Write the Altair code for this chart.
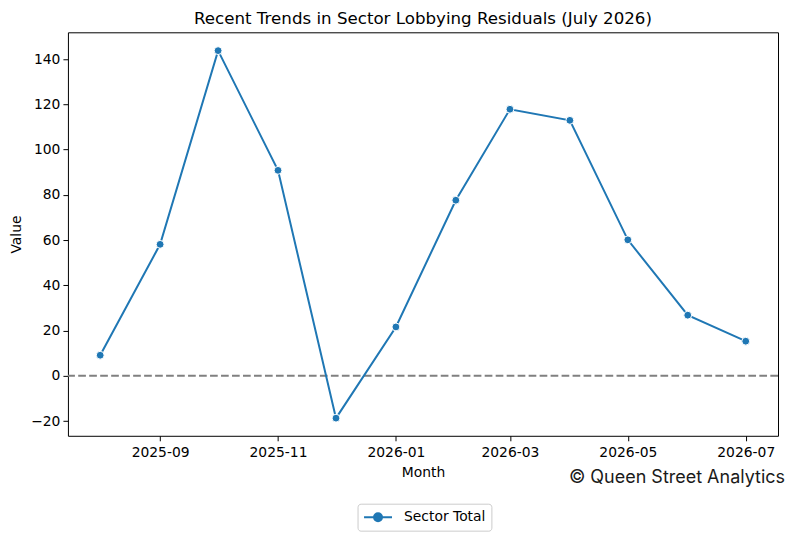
import pandas as pd
import altair as alt

# monthly residuals
months = ["2025-08-01", "2025-09-01", "2025-10-01", "2025-11-01", "2025-12-01", "2026-01-01",
          "2026-02-01", "2026-03-01", "2026-04-01", "2026-05-01", "2026-06-01", "2026-07-01"]
values = [9.1, 58.1, 143.7, 90.8, -18.7, 21.6, 77.6, 117.8, 112.9, 60.1, 26.8, 15.3]
series_name = "Sector Total"
tick_months = ["2025-09-01", "2025-11-01", "2026-01-01", "2026-03-01", "2026-05-01", "2026-07-01"]
y_ticks = [-20, 0, 20, 40, 60, 80, 100, 120, 140]
credit = "© Queen Street Analytics"
title = "Recent Trends in Sector Lobbying Residuals (July 2026)"

def ms(d):
    return int(pd.Timestamp(d).value // 10**6)

# 5% margin on each side, like matplotlib
span = ms(months[-1]) - ms(months[0])
x_domain = [ms(months[0]) - 0.05 * span, ms(months[-1]) + 0.05 * span]

df = pd.DataFrame({"month": months, "value": values, "series": series_name})
zero = pd.DataFrame({"y": [0]})
note = pd.DataFrame({"t": [credit]})

FONT = "DejaVu Sans"
BLUE = "#1f77b4"

# legend glyph: line with a dot, shifted right so the row stays short
legend_glyph = "M-1,0L0.43,0M1.57,0L3,0M0.43,0A0.57,0.57 0 1,1 1.57,0A0.57,0.57 0 1,1 0.43,0"

x_enc = alt.X("month:T", title="Month",
              scale=alt.Scale(type="utc", domain=x_domain),
              axis=alt.Axis(values=[ms(m) for m in tick_months], format="%Y-%m",
                            labelAngle=0, labelPadding=5, titlePadding=6))
y_enc = alt.Y("value:Q", title="Value",
              scale=alt.Scale(domain=[-26.5, 151.8], nice=False, zero=False),
              axis=alt.Axis(values=y_ticks, format="d", titlePadding=7, labelPadding=3))
color_enc = alt.Color("series:N", title=None,
                      scale=alt.Scale(range=[BLUE]),
                      legend=alt.Legend(
                          orient="none", legendX=290, legendY=472,
                          symbolType=legend_glyph, symbolSize=196, symbolStrokeWidth=2,
                          symbolFillColor=BLUE, symbolStrokeColor=BLUE,
                          labelFont=FONT, labelFontSize=13.9, labelColor="black",
                          labelOffset=25, padding=5.5,
                          strokeColor="#cccccc", cornerRadius=3, fillColor="white"))

rule = alt.Chart(zero).mark_rule(color="gray", strokeWidth=2, strokeDash=[7.7, 3.3]).encode(
    y="y:Q"
)

line = alt.Chart(df).mark_line(strokeWidth=2).encode(
    x=x_enc, y=y_enc, color=color_enc
)

points = alt.Chart(df).mark_point(filled=True, size=62, opacity=1, stroke="white", strokeWidth=1).encode(
    x="month:T", y="value:Q", color=alt.Color("series:N", legend=None)
)

credit_text = alt.Chart(note).mark_text(
    align="right", baseline="alphabetic", font="Inter", fontSize=18, color="#1a1a1a"
).encode(x=alt.value(718), y=alt.value(451), text="t:N")

chart = alt.layer(rule, line, points, credit_text).properties(
    width=711, height=404,
    title=alt.TitleParams(title, font=FONT, fontSize=16.7, fontWeight="normal",
                          color="black", anchor="middle", offset=5),
    autosize=alt.AutoSizeParams(type="none"),
    padding={"left": 60, "top": 24, "right": 10, "bottom": 100},
).configure_view(
    stroke="black", strokeWidth=1
).configure_axis(
    grid=False, domain=False, tickColor="black", tickSize=5,
    labelFont=FONT, labelFontSize=13.9, labelColor="black",
    titleFont=FONT, titleFontSize=13.9, titleFontWeight="normal", titleColor="black"
)

chart.save("out.html", embed_options={"renderer": "svg", "actions": False})
